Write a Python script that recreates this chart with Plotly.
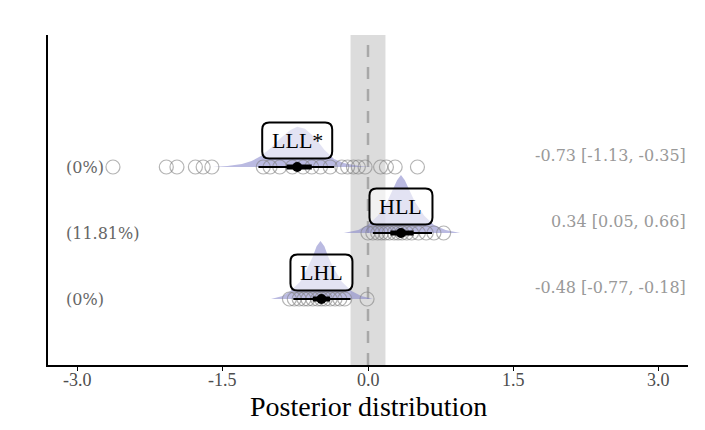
import plotly.graph_objects as go

# ---------------- data ----------------
groups = ["LHL", "HLL", "LLL"]          # bottom -> top
group_labels = ["LHL", "HLL", "LLL*"]
rows = [1, 2, 3]
medians = [-0.48, 0.34, -0.73]
ci95_lo = [-0.77, 0.05, -1.13]
ci95_hi = [-0.18, 0.66, -0.35]
ci66_lo = [-0.57, 0.23, -0.84]
ci66_hi = [-0.39, 0.47, -0.58]
pct_in_rope = ["(0%)", "(11.81%)", "(0%)"]
summary_text = ["-0.48 [-0.77, -0.18]", "0.34 [0.05, 0.66]", "-0.73 [-1.13, -0.35]"]
rope = [-0.18, 0.18]

# density profiles (height in row units)
dens_x_LHL = [-1.0, -0.88, -0.8, -0.7, -0.62, -0.57, -0.53, -0.49, -0.45, -0.41, -0.36, -0.27, -0.17, -0.07, 0.05]
dens_h_LHL = [0, 0.045, 0.12, 0.26, 0.48, 0.64, 0.80, 0.88, 0.80, 0.64, 0.48, 0.26, 0.12, 0.045, 0]
dens_x_HLL = [-0.25, -0.1, 0.0, 0.1, 0.2, 0.25, 0.3, 0.34, 0.38, 0.43, 0.48, 0.58, 0.68, 0.8, 0.95]
dens_h_HLL = [0, 0.045, 0.12, 0.26, 0.48, 0.64, 0.80, 0.88, 0.80, 0.64, 0.48, 0.26, 0.12, 0.045, 0]
dens_x_LLL = [-1.6, -1.45, -1.3, -1.2, -1.1, -1.0, -0.9, -0.8, -0.73, -0.65, -0.55, -0.45, -0.35, -0.25, -0.15, -0.05, 0.05]
dens_h_LLL = [0, 0.015, 0.045, 0.09, 0.17, 0.29, 0.44, 0.56, 0.61, 0.58, 0.45, 0.26, 0.12, 0.06, 0.03, 0.008, 0]

# individual observations (open circles)
obs_LHL = [-0.81, -0.76, -0.71, -0.66, -0.62, -0.57, -0.52, -0.48, -0.44, -0.39, -0.34, -0.29, -0.24, -0.01]
obs_HLL = [0.0, 0.05, 0.1, 0.14, 0.18, 0.22, 0.27, 0.31, 0.35, 0.40, 0.45, 0.52, 0.6, 0.68, 0.78]
obs_LLL = [-2.63, -2.08, -1.97, -1.78, -1.70, -1.61, -1.08, -1.01, -0.91, -0.78, -0.67, -0.58,
           -0.49, -0.39, -0.27, -0.21, -0.15, -0.10, -0.03, 0.13, 0.19, 0.28, 0.51]

x_ticks = [-3.0, -1.5, 0.0, 1.5, 3.0]
x_tick_labels = ["-3.0", "-1.5", "0.0", "1.5", "3.0"]
x_title = "Posterior distribution"

# ---------------- style ----------------
DENS_FILL = "rgba(130,130,200,0.55)"
CIRCLE_COL = "rgba(130,130,130,0.6)"
SERIF = "Liberation Serif, Times New Roman, serif"
LBL_FONT = "DejaVu Serif, serif"
box_w = {"LHL": 62, "HLL": 63, "LLL*": 70}
BOX_H = 36
BOX_R = 7
label_offset = 0.40
x_range = [-3.3, 3.3]
y_range = [0, 5]

dens_x = [dens_x_LHL, dens_x_HLL, dens_x_LLL]
dens_h = [dens_h_LHL, dens_h_HLL, dens_h_LLL]
obs = [obs_LHL, obs_HLL, obs_LLL]

fig = go.Figure()

# densities
for i, r in enumerate(rows):
    xs = dens_x[i]
    ys = [r + h for h in dens_h[i]]
    fig.add_trace(go.Scatter(
        x=xs + xs[::-1], y=ys + [r] * len(xs), fill="toself", fillcolor=DENS_FILL,
        line=dict(width=0), mode="lines", hoverinfo="skip", showlegend=False))

# observations
for i, r in enumerate(rows):
    fig.add_trace(go.Scatter(
        x=obs[i], y=[r] * len(obs[i]), mode="markers",
        marker=dict(symbol="circle-open", size=14, color=CIRCLE_COL, line=dict(width=1.2)),
        hoverinfo="skip", showlegend=False))

# intervals
for i, r in enumerate(rows):
    fig.add_trace(go.Scatter(x=[ci95_lo[i], ci95_hi[i]], y=[r, r], mode="lines",
                             line=dict(color="black", width=2), showlegend=False, hoverinfo="skip"))
    fig.add_trace(go.Scatter(x=[ci66_lo[i], ci66_hi[i]], y=[r, r], mode="lines",
                             line=dict(color="black", width=5), showlegend=False, hoverinfo="skip"))
    fig.add_trace(go.Scatter(x=[medians[i]], y=[r], mode="markers",
                             marker=dict(color="black", size=10), showlegend=False, hoverinfo="skip"))

shapes = []
# ROPE band and zero line
shapes.append(dict(type="rect", xref="x", yref="paper", x0=rope[0], x1=rope[1], y0=0, y1=1,
                   fillcolor="#dcdcdc", line=dict(width=0), layer="below"))
shapes.append(dict(type="line", xref="x", yref="paper", x0=0, x1=0, y0=0, y1=1,
                   line=dict(color="#a8a8a8", width=2.5, dash="12px,10px"), layer="below"))


def rounded(w, h, r):
    a, b = w / 2, h / 2
    return (f"M {-a + r},{-b} L {a - r},{-b} Q {a},{-b} {a},{-b + r} L {a},{b - r} "
            f"Q {a},{b} {a - r},{b} L {-a + r},{b} Q {-a},{b} {-a},{b - r} L {-a},{-b + r} "
            f"Q {-a},{-b} {-a + r},{-b} Z")


annotations = []
for i, r in enumerate(rows):
    lab = group_labels[i]
    shapes.append(dict(type="path", xref="x", yref="y", xsizemode="pixel", ysizemode="pixel",
                       xanchor=medians[i], yanchor=r + label_offset,
                       path=rounded(box_w[lab], BOX_H, BOX_R),
                       fillcolor="rgba(255,255,255,0.6)", line=dict(color="black", width=2),
                       layer="above"))
    annotations.append(dict(x=medians[i], y=r + label_offset, xref="x", yref="y", text=lab,
                            showarrow=False, font=dict(family=SERIF, size=22, color="black")))
    annotations.append(dict(x=-3.13, y=r, xref="x", yref="y", text=pct_in_rope[i],
                            xanchor="left", showarrow=False,
                            font=dict(family=LBL_FONT, size=16, color="#666666")))
    annotations.append(dict(x=3.3, y=r + 0.18, xref="x", yref="y", text=summary_text[i],
                            xanchor="right", showarrow=False,
                            font=dict(family=LBL_FONT, size=16, color="#999999")))

# tick labels as annotations (placed closer to the axis, as in the reference)
for tv, tt in zip(x_ticks, x_tick_labels):
    annotations.append(dict(x=tv, y=0, xref="x", yref="paper", text=tt, showarrow=False,
                            xanchor="center", yanchor="middle", yshift=-15,
                            font=dict(family=SERIF, size=18, color="#4d4d4d")))

# axis title as annotation for precise placement
annotations.append(dict(x=0.5, y=0, xref="paper", yref="paper", text=x_title, showarrow=False,
                        xanchor="center", yanchor="top", yshift=-25, borderpad=0,
                        font=dict(family=SERIF, size=28, color="black")))

# page body has an 8px margin, so the figure is 8px smaller than the window
fig.update_layout(
    width=697, height=422,
    margin=dict(l=40, r=17, t=27, b=65),
    plot_bgcolor="white", paper_bgcolor="white",
    shapes=shapes, annotations=annotations,
    xaxis=dict(range=x_range, tickvals=x_ticks, showticklabels=False,
               showgrid=False, zeroline=False, showline=True, linecolor="black", linewidth=1.5,
               ticks="outside", ticklen=4, tickcolor="black"),
    yaxis=dict(range=y_range, showgrid=False, zeroline=False, showticklabels=False,
               showline=True, linecolor="black", linewidth=1.5, ticks=""),
)

fig.write_html("out.html")
